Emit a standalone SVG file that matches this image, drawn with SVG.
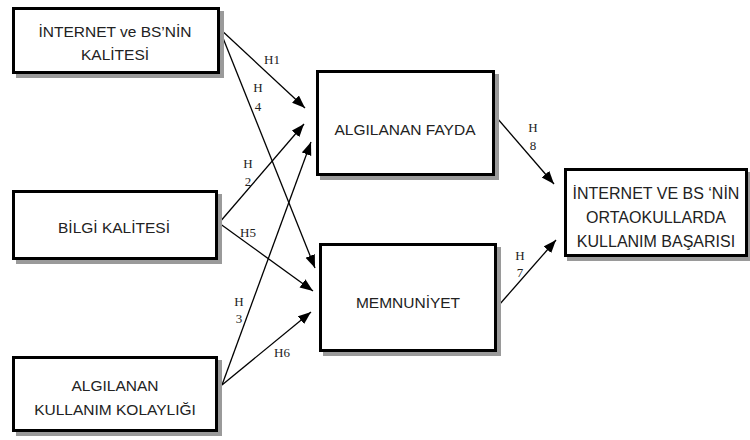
<svg xmlns="http://www.w3.org/2000/svg" width="750" height="440" viewBox="0 0 750 440">
<style>
.shadow{fill:#9a9a9a;stroke:none}
.box{fill:#fff;stroke:#000;stroke-width:3}
.t{font-family:"Liberation Sans",Arial,sans-serif;font-size:15.5px;fill:#222;text-anchor:middle}
.lbl{font-family:"Liberation Serif","Times New Roman",serif;font-size:13px;fill:#222;text-anchor:middle}
.c{stroke:#000;stroke-width:1.3;fill:none;marker-end:url(#ah)}
</style>
<defs>
<marker id="ah" markerUnits="userSpaceOnUse" markerWidth="14" markerHeight="11" refX="13" refY="5" orient="auto">
<path d="M0,0 L13,5 L0,10 z" fill="#000"/>
</marker>
</defs>
<rect width="750" height="440" fill="#fff"/>
<g id="connectors">
<line class="c" x1="219" y1="28" x2="305" y2="108"/>
<line class="c" x1="219" y1="28" x2="315" y2="268"/>
<line class="c" x1="219" y1="223" x2="304" y2="124"/>
<line class="c" x1="219" y1="223" x2="313" y2="291"/>
<line class="c" x1="222" y1="385" x2="311" y2="142"/>
<line class="c" x1="222" y1="385" x2="311" y2="312"/>
<line class="c" x1="497" y1="118" x2="554" y2="184"/>
<line class="c" x1="499" y1="305" x2="556" y2="240"/>
<text class="lbl" x="272" y="64">H1</text>
<text class="lbl" x="258" y="92">H</text>
<text class="lbl" x="258" y="111">4</text>
<text class="lbl" x="248" y="168">H</text>
<text class="lbl" x="248" y="186">2</text>
<text class="lbl" x="248" y="237">H5</text>
<text class="lbl" x="239" y="306">H</text>
<text class="lbl" x="239" y="323">3</text>
<text class="lbl" x="282" y="357">H6</text>
<text class="lbl" x="533" y="132">H</text>
<text class="lbl" x="533" y="150">8</text>
<text class="lbl" x="520" y="260">H</text>
<text class="lbl" x="520" y="277">7</text>
</g>
<g id="n1">
<rect class="shadow" x="16" y="11" width="208" height="67"/>
<rect class="box" x="13.5" y="8.5" width="205" height="64"/>
<text class="t" x="115" y="37">İNTERNET ve BS’NİN</text>
<text class="t" x="115" y="60">KALİTESİ</text>
</g>
<g id="n2">
<rect class="shadow" x="16" y="194" width="206" height="70"/>
<rect class="box" x="13.5" y="191.5" width="203" height="67"/>
<text class="t" x="114" y="233">BİLGİ KALİTESİ</text>
</g>
<g id="n3">
<rect class="shadow" x="16" y="360" width="206" height="76"/>
<rect class="box" x="13.5" y="357.5" width="203" height="73"/>
<text class="t" x="115" y="391">ALGILANAN</text>
<text class="t" x="115" y="415">KULLANIM KOLAYLIĞI</text>
</g>
<g id="n4">
<rect class="shadow" x="320" y="74" width="179" height="106"/>
<rect class="box" x="317.5" y="71.5" width="176" height="103"/>
<text class="t" x="405" y="135">ALGILANAN FAYDA</text>
</g>
<g id="n5">
<rect class="shadow" x="323" y="247" width="178" height="109"/>
<rect class="box" x="320.5" y="244.5" width="175" height="106"/>
<text class="t" x="408" y="308">MEMNUNİYET</text>
</g>
<g id="n6">
<rect class="shadow" x="567" y="172" width="183" height="89"/>
<rect class="box" x="565.5" y="169.5" width="181" height="86"/>
<text class="t" x="656" y="199" style="font-size:16px">İNTERNET VE BS ‘NİN</text>
<text class="t" x="656" y="223" style="font-size:16px">ORTAOKULLARDA</text>
<text class="t" x="656" y="247" style="font-size:16px">KULLANIM BAŞARISI</text>
</g>
</svg>
